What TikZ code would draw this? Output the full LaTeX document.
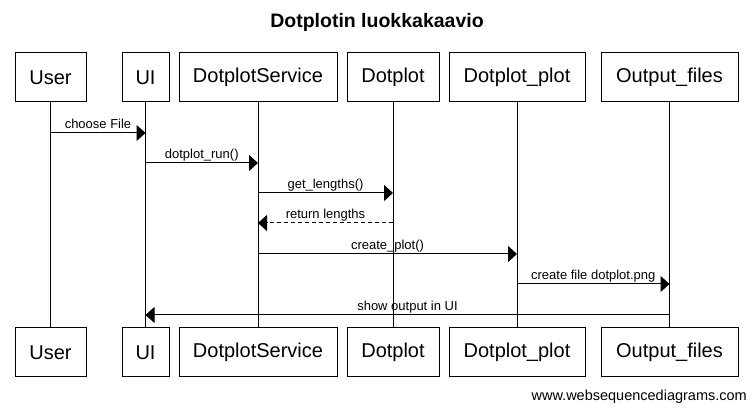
\documentclass[tikz,border=0pt]{standalone}
\usepackage{fontspec}
\setmainfont{Liberation Sans}
\usetikzlibrary{arrows.meta}
\tikzset{
  actor/.style={draw, line width=1pt, minimum height=49pt, inner sep=0pt, font=\fontsize{20}{23}\selectfont},
  lifeline/.style={line width=1pt},
  msg/.style={line width=1pt, -{Triangle[length=9pt,width=16pt]}},
  reply/.style={msg, dash pattern=on 4pt off 3pt},
  lbl/.style={anchor=base, yshift=4pt, inner sep=0pt, font=\fontsize{13}{15}\selectfont}
}
\begin{document}
\begin{tikzpicture}[x=1pt,y=-1pt]
\useasboundingbox (0,0) rectangle (753,411);
\node[font=\bfseries\fontsize{19.5}{22}\selectfont] (title) at (377,22) {Dotplotin luokkakaavio};
% top actors
\node[actor, minimum width=71pt] (t1) at (50.5,77.5) {User};
\node[actor, minimum width=47pt] (t2) at (145.5,77.5) {UI};
\node[actor, minimum width=158pt] (t3) at (258,77.5) {DotplotService};
\node[actor, minimum width=92pt] (t4) at (393,77.5) {Dotplot};
\node[actor, minimum width=136pt] (t5) at (517,77.5) {Dotplot\_plot};
\node[actor, minimum width=137pt] (t6) at (669.5,77.5) {Output\_files};
% bottom actors
\node[actor, minimum width=71pt] (b1) at (50.5,352.5) {User};
\node[actor, minimum width=47pt] (b2) at (145.5,352.5) {UI};
\node[actor, minimum width=158pt] (b3) at (258,352.5) {DotplotService};
\node[actor, minimum width=92pt] (b4) at (393,352.5) {Dotplot};
\node[actor, minimum width=136pt] (b5) at (517,352.5) {Dotplot\_plot};
\node[actor, minimum width=137pt] (b6) at (669.5,352.5) {Output\_files};
% lifelines
\foreach \i in {1,...,6} {\draw[lifeline] (t\i.south) -- (b\i.north);}
% message end points
\coordinate (m1a) at (t1.south |- 0,133);
\coordinate (m1b) at (t2.south |- 0,133);
\coordinate (m2a) at (t2.south |- 0,163);
\coordinate (m2b) at (t3.south |- 0,163);
\coordinate (m3a) at (t3.south |- 0,193);
\coordinate (m3b) at (t4.south |- 0,193);
\coordinate (m4a) at (t4.south |- 0,223);
\coordinate (m4b) at (t3.south |- 0,223);
\coordinate (m5a) at (t3.south |- 0,254);
\coordinate (m5b) at (t5.south |- 0,254);
\coordinate (m6a) at (t5.south |- 0,284);
\coordinate (m6b) at (t6.south |- 0,284);
\coordinate (m7a) at (t6.south |- 0,315);
\coordinate (m7b) at (t2.south |- 0,315);
% messages
\draw[msg] (m1a) -- node[lbl] {choose File} (m1b);
\draw[msg] (m2a) -- node[lbl] {dotplot\_run()} (m2b);
\draw[msg] (m3a) -- node[lbl] {get\_lengths()} (m3b);
\draw[reply] (m4a) -- node[lbl] {return lengths} (m4b);
\draw[msg] (m5a) -- node[lbl] {create\_plot()} (m5b);
\draw[msg] (m6a) -- node[lbl] {create file dotplot.png} (m6b);
\draw[msg] (m7a) -- node[lbl] {show output in UI} (m7b);
\node[anchor=east, inner sep=0pt, font=\fontsize{14.5}{16}\selectfont] (wm) at (747,397) {www.websequencediagrams.com};
\end{tikzpicture}
\end{document}
